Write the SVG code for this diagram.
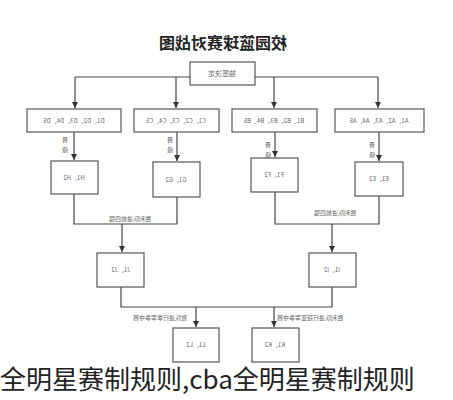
<svg xmlns="http://www.w3.org/2000/svg" width="453" height="400" viewBox="0 0 453 400">
<style>
.bx{fill:#fff;stroke:#555;stroke-width:1.2}
.ln{fill:none;stroke:#444;stroke-width:1.2}
.t{font-family:"Noto Sans CJK SC","Liberation Sans",sans-serif;font-size:6px;fill:#666;text-anchor:middle}
.ttl{font-family:"Noto Sans CJK SC","Liberation Sans",sans-serif;font-size:16px;font-weight:bold;fill:#222;text-anchor:middle}
.cap{font-family:"Noto Sans CJK SC","Liberation Sans",sans-serif;font-size:26px;fill:#222}
</style>
<defs>
<marker id="ah" viewBox="0 0 10 10" refX="10" refY="5" markerWidth="5" markerHeight="5" orient="auto"><path d="M0,0L10,5L0,10Z" fill="#333"/></marker>
</defs>
<rect width="453" height="400" fill="#fff"/>
<g id="title"><text class="ttl" transform="translate(223,49) scale(-1,1)">校园篮球赛对战图</text></g>
<g id="connectors">
<path class="ln" d="M75,77H378"/>
<path class="ln" d="M75,77V108" marker-end="url(#ah)"/>
<path class="ln" d="M176,77V108" marker-end="url(#ah)"/>
<path class="ln" d="M274,77V108" marker-end="url(#ah)"/>
<path class="ln" d="M378,77V108" marker-end="url(#ah)"/>
<path class="ln" d="M74,132V160" marker-end="url(#ah)"/>
<path class="ln" d="M177,132V161" marker-end="url(#ah)"/>
<path class="ln" d="M275,132V157" marker-end="url(#ah)"/>
<path class="ln" d="M379,132V161" marker-end="url(#ah)"/>
<path class="ln" d="M74,194V224H177V197"/>
<path class="ln" d="M275,192V224H379V196"/>
<path class="ln" d="M122,224V252" marker-end="url(#ah)"/>
<path class="ln" d="M332,224V252" marker-end="url(#ah)"/>
<path class="ln" d="M121,287V307H332V287"/>
<path class="ln" d="M196,307V327" marker-end="url(#ah)"/>
<path class="ln" d="M274,307V327" marker-end="url(#ah)"/>
<text class="t" transform="translate(65,142) scale(-1,1)">晋</text>
<text class="t" transform="translate(65,152) scale(-1,1)">级</text>
<text class="t" transform="translate(170,142) scale(-1,1)">晋</text>
<text class="t" transform="translate(170,152) scale(-1,1)">级</text>
<text class="t" transform="translate(268,147) scale(-1,1)">晋</text>
<text class="t" transform="translate(268,157) scale(-1,1)">级</text>
<text class="t" transform="translate(372,147) scale(-1,1)">晋</text>
<text class="t" transform="translate(372,157) scale(-1,1)">级</text>
<text class="t" transform="translate(130,221) scale(-1,1)">胜利队进前四强</text>
<text class="t" transform="translate(335,215) scale(-1,1)">胜利队进前四强</text>
<text class="t" transform="translate(160,320) scale(-1,1)">败队进行季军争夺赛</text>
<text class="t" transform="translate(310,320) scale(-1,1)">胜利队进行冠亚军争夺赛</text>
</g>
<g id="draw"><rect class="bx" x="190" y="62" width="65" height="23"/><text class="t" style="font-size:7px" transform="translate(222,76) scale(-1,1)">抽签决定</text></g>
<g id="D"><rect class="bx" x="27" y="109" width="94" height="23"/><text class="t" transform="translate(74,123) scale(-1,1)">D1、D2、D3、D4、D5</text></g>
<g id="C"><rect class="bx" x="134" y="109" width="85" height="23"/><text class="t" transform="translate(176,123) scale(-1,1)">C1、C2、C3、C4、C5</text></g>
<g id="B"><rect class="bx" x="232" y="109" width="85" height="23"/><text class="t" transform="translate(274,123) scale(-1,1)">B1、B2、B3、B4、B5</text></g>
<g id="A"><rect class="bx" x="335" y="109" width="89" height="23"/><text class="t" transform="translate(379,123) scale(-1,1)">A1、A2、A3、A4、A5</text></g>
<g id="H"><rect class="bx" x="51" y="161" width="47" height="33"/><text class="t" transform="translate(74,180) scale(-1,1)">H1、H2</text></g>
<g id="G"><rect class="bx" x="153" y="162" width="47" height="35"/><text class="t" transform="translate(176,182) scale(-1,1)">G1、G2</text></g>
<g id="F"><rect class="bx" x="251" y="158" width="47" height="34"/><text class="t" transform="translate(274,177) scale(-1,1)">F1、F2</text></g>
<g id="E"><rect class="bx" x="355" y="162" width="48" height="34"/><text class="t" transform="translate(379,181) scale(-1,1)">E1、E2</text></g>
<g id="J"><rect class="bx" x="97" y="253" width="47" height="34"/><text class="t" transform="translate(121,272) scale(-1,1)">J1、J2</text></g>
<g id="I"><rect class="bx" x="309" y="253" width="47" height="34"/><text class="t" transform="translate(332,272) scale(-1,1)">I1、I2</text></g>
<g id="L"><rect class="bx" x="173" y="328" width="46" height="34"/><text class="t" transform="translate(196,347) scale(-1,1)">L1、L2</text></g>
<g id="K"><rect class="bx" x="252" y="328" width="47" height="34"/><text class="t" transform="translate(275,347) scale(-1,1)">K1、K2</text></g>
<g id="caption"><text class="cap" x="0" y="389">全明星赛制规则,cba全明星赛制规则</text></g>
</svg>
